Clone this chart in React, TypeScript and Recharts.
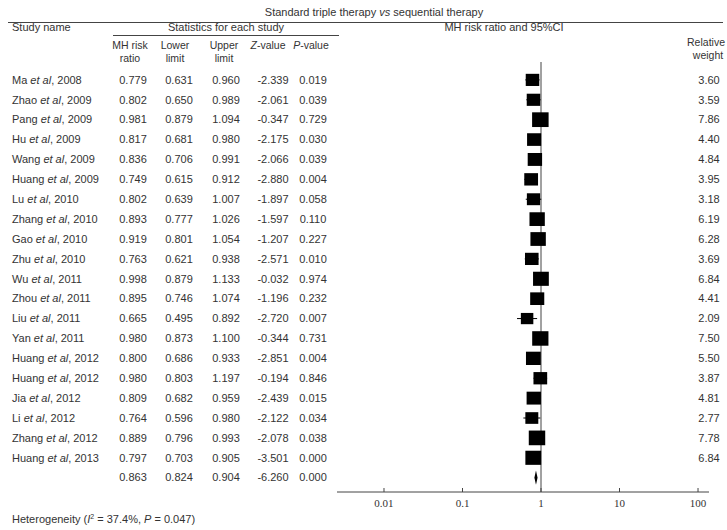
import {
  ComposedChart,
  ErrorBar,
  ReferenceArea,
  ReferenceLine,
  Scatter,
  XAxis,
  YAxis,
} from "recharts";

const authors = ["Ma", "Zhao", "Pang", "Hu", "Wang", "Huang", "Lu", "Zhang", "Gao", "Zhu", "Wu", "Zhou", "Liu", "Yan", "Huang", "Huang", "Jia", "Li", "Zhang", "Huang"];
const years = [2008, 2009, 2009, 2009, 2009, 2009, 2010, 2010, 2010, 2010, 2011, 2011, 2011, 2011, 2012, 2012, 2012, 2012, 2012, 2013];
const riskRatio = [0.779, 0.802, 0.981, 0.817, 0.836, 0.749, 0.802, 0.893, 0.919, 0.763, 0.998, 0.895, 0.665, 0.98, 0.8, 0.98, 0.809, 0.764, 0.889, 0.797];
const lowerLimit = [0.631, 0.65, 0.879, 0.681, 0.706, 0.615, 0.639, 0.777, 0.801, 0.621, 0.879, 0.746, 0.495, 0.873, 0.686, 0.803, 0.682, 0.596, 0.796, 0.703];
const upperLimit = [0.96, 0.989, 1.094, 0.98, 0.991, 0.912, 1.007, 1.026, 1.054, 0.938, 1.133, 1.074, 0.892, 1.1, 0.933, 1.197, 0.959, 0.98, 0.993, 0.905];
const zValue = [-2.339, -2.061, -0.347, -2.175, -2.066, -2.88, -1.897, -1.597, -1.207, -2.571, -0.032, -1.196, -2.72, -0.344, -2.851, -0.194, -2.439, -2.122, -2.078, -3.501];
const pValue = [0.019, 0.039, 0.729, 0.03, 0.039, 0.004, 0.058, 0.11, 0.227, 0.01, 0.974, 0.232, 0.007, 0.731, 0.004, 0.846, 0.015, 0.034, 0.038, 0.0];
const relWeight = [3.6, 3.59, 7.86, 4.4, 4.84, 3.95, 3.18, 6.19, 6.28, 3.69, 6.84, 4.41, 2.09, 7.5, 5.5, 3.87, 4.81, 2.77, 7.78, 6.84];

// pooled estimate: ratio, lower, upper, z, p
const pooled = [0.863, 0.824, 0.904, -6.26, 0.0];

const xTicks = [0.01, 0.1, 1, 10, 100];

const W = 727;
const H = 530;
const PLOT_TOP = 62;
const PLOT_BOTTOM = 492;
const Y_DOMAIN: [number, number] = [-0.9, 20.72];
const rowY = (i: number) =>
  PLOT_TOP + ((i - Y_DOMAIN[0]) / (Y_DOMAIN[1] - Y_DOMAIN[0])) * (PLOT_BOTTOM - PLOT_TOP);

const studies = riskRatio.map((rr, i) => ({
  x: rr,
  y: i,
  w: relWeight[i],
  err: [rr - lowerLimit[i], upperLimit[i] - rr],
}));

const FONT = "'Liberation Sans', Arial, sans-serif";
const TEXT = "#333";

function WeightBox(props: any) {
  const { cx, cy, payload } = props;
  const bw = 11 + payload.w * 0.7;
  const bh = 10 + payload.w * 0.6;
  return <rect x={cx - bw / 2} y={cy - bh / 2} width={bw} height={bh} fill="#000" />;
}

function Diamond(props: any) {
  const { x, y, width, height } = props;
  const pts = [
    [x, y + height / 2],
    [x + width / 2, y],
    [x + width, y + height / 2],
    [x + width / 2, y + height],
  ]
    .map((p) => p.join(","))
    .join(" ");
  return <polygon points={pts} fill="#000" />;
}

function Tick(props: any) {
  const { x, y, payload } = props;
  return (
    <g>
      <line x1={x} x2={x} y1={PLOT_BOTTOM - 4} y2={PLOT_BOTTOM} stroke="#444" />
      <text x={x} y={y + 15} textAnchor="middle" fontFamily="'Liberation Serif', serif" fontSize={11} fill={TEXT}>
        {payload.value}
      </text>
    </g>
  );
}

const colX = [133, 179, 226, 273, 313];

function Table() {
  const rowVals = (i: number) => [riskRatio[i], lowerLimit[i], upperLimit[i], zValue[i], pValue[i]];
  return (
    <svg
      width={W}
      height={H}
      style={{ position: "absolute", left: 0, top: 0, pointerEvents: "none" }}
      fontFamily={FONT}
      fontSize={11}
      fill={TEXT}
    >
      <text x={374} y={16} textAnchor="middle">
        Standard triple therapy <tspan fontStyle="italic">vs</tspan> sequential therapy
      </text>
      <line x1={8} x2={723} y1={22.5} y2={22.5} stroke="#444" />
      <text x={12} y={31}>Study name</text>
      <text x={226} y={31} textAnchor="middle">Statistics for each study</text>
      <line x1={113} x2={339} y1={35.5} y2={35.5} stroke="#444" />
      <text x={504} y={31} textAnchor="middle">MH risk ratio and 95%CI</text>

      <g fontSize={10.5}>
        <text x={130} y={49} textAnchor="middle">MH risk</text>
        <text x={130} y={62} textAnchor="middle">ratio</text>
        <text x={175} y={49} textAnchor="middle">Lower</text>
        <text x={175} y={62} textAnchor="middle">limit</text>
        <text x={224} y={49} textAnchor="middle">Upper</text>
        <text x={224} y={62} textAnchor="middle">limit</text>
        <text x={268} y={49} textAnchor="middle">
          <tspan fontStyle="italic">Z</tspan>-value
        </text>
        <text x={311} y={49} textAnchor="middle">
          <tspan fontStyle="italic">P</tspan>-value
        </text>
        <text x={706} y={46} textAnchor="middle">Relative</text>
        <text x={708} y={59} textAnchor="middle">weight</text>
      </g>

      {authors.map((a, i) => (
        <g key={i}>
          <text x={12} y={rowY(i) + 3.8}>
            {a} <tspan fontStyle="italic">et al</tspan>, {years[i]}
          </text>
          {rowVals(i).map((v, j) => (
            <text key={j} x={colX[j]} y={rowY(i) + 3.8} textAnchor="middle">
              {v.toFixed(3)}
            </text>
          ))}
          <text x={709} y={rowY(i) + 3.8} textAnchor="middle">
            {relWeight[i].toFixed(2)}
          </text>
        </g>
      ))}
      {pooled.map((v, j) => (
        <text key={j} x={colX[j]} y={rowY(20) + 3.8} textAnchor="middle">
          {v.toFixed(3)}
        </text>
      ))}
      <text x={12} y={523}>
        Heterogeneity (<tspan fontStyle="italic">I</tspan>
        <tspan fontSize={7} dy={-4}>2</tspan>
        <tspan dy={4}> = 37.4%, </tspan>
        <tspan fontStyle="italic">P</tspan> = 0.047)
      </text>
    </svg>
  );
}

export default function App() {
  return (
    <div style={{ position: "absolute", left: 0, top: 0, width: W, height: H, background: "#fff" }}>
      <ComposedChart
        width={W}
        height={H}
        data={studies}
        margin={{ top: PLOT_TOP, right: W - 709, bottom: H - PLOT_BOTTOM - 30, left: 337 }}
      >
        <XAxis
          type="number"
          dataKey="x"
          scale="log"
          domain={[0.00252, 138]}
          ticks={xTicks}
          allowDataOverflow
          height={30}
          tickSize={0}
          tickMargin={0}
          tickLine={false}
          axisLine={{ stroke: "#444" }}
          tick={<Tick />}
        />
        <YAxis type="number" dataKey="y" domain={Y_DOMAIN} reversed hide allowDataOverflow />
        <ReferenceLine x={1} stroke="#444" ifOverflow="visible" />
        <Scatter data={studies} dataKey="y" shape={<WeightBox />} isAnimationActive={false}>
          <ErrorBar dataKey="err" direction="x" width={0} stroke="#000" strokeWidth={1} isAnimationActive={false} />
        </Scatter>
        <ReferenceArea
          x1={pooled[1]}
          x2={pooled[2]}
          y1={20 - 0.36}
          y2={20 + 0.36}
          shape={<Diamond />}
          ifOverflow="visible"
        />
      </ComposedChart>
      <Table />
    </div>
  );
}
